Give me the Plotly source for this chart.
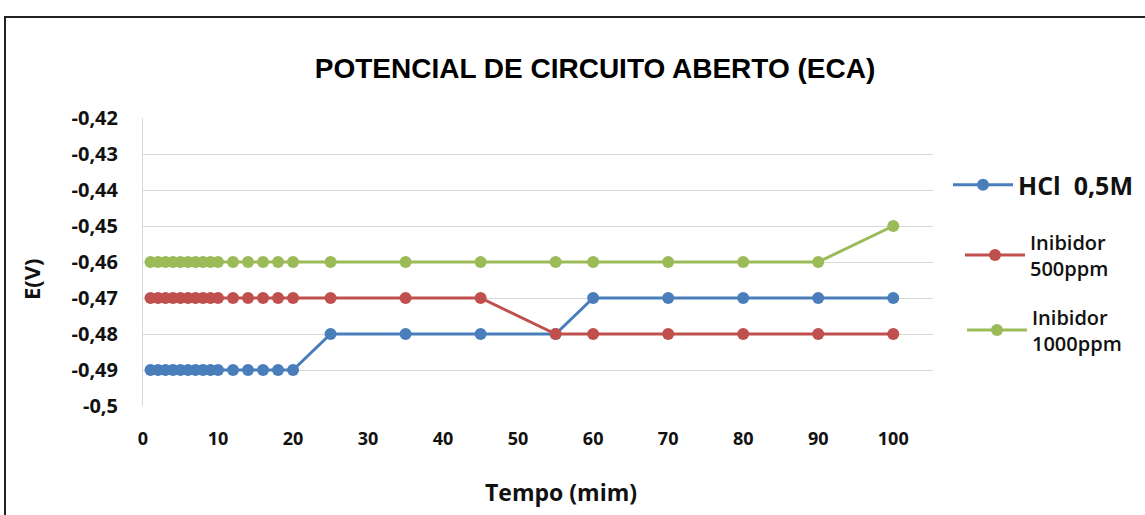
import plotly.graph_objects as go

tempo = [1, 2, 3, 4, 5, 6, 7, 8, 9, 10, 12, 14, 16, 18, 20, 25, 35, 45, 55, 60, 70, 80, 90, 100]
hcl = [-0.49]*15 + [-0.48, -0.48, -0.48, -0.48, -0.47, -0.47, -0.47, -0.47, -0.47]
inib500 = [-0.47]*15 + [-0.47, -0.47, -0.47, -0.48, -0.48, -0.48, -0.48, -0.48, -0.48]
inib1000 = [-0.46]*15 + [-0.46, -0.46, -0.46, -0.46, -0.46, -0.46, -0.46, -0.46, -0.45]

y_ticks = [-0.42, -0.43, -0.44, -0.45, -0.46, -0.47, -0.48, -0.49, -0.5]
y_labels = ["-0,42", "-0,43", "-0,44", "-0,45", "-0,46", "-0,47", "-0,48", "-0,49", "-0,5"]
x_ticks = [0, 10, 20, 30, 40, 50, 60, 70, 80, 90, 100]

series_names = ["HCl  0,5M", "Inibidor<br>500ppm", "Inibidor<br>1000ppm"]
series_values = [hcl, inib500, inib1000]
series_colors = ["#4A7EBB", "#C0504D", "#9BBB59"]
legend_ids = ["legend", "legend2", "legend3"]

fig = go.Figure()
for name, ys, col, lg in zip(series_names, series_values, series_colors, legend_ids):
    fig.add_trace(go.Scatter(
        x=tempo, y=ys, name=name, mode="lines+markers",
        line=dict(color=col, width=3),
        marker=dict(color=col, size=12),
        legend=lg,
    ))

font_main = "Liberation Sans, Arial, sans-serif"
font_tick = "Open Sans, Calibri, sans-serif"

L, T, W, H = 143, 118, 790, 288


def px_x(x):
    return (x - L) / W


def px_y(y):
    return 1 - (y - T) / H


fig.update_layout(
    width=1145, height=515,
    margin=dict(l=143, r=212, t=118, b=109, autoexpand=False),
    paper_bgcolor="white", plot_bgcolor="white",
    title=dict(text="<b>POTENCIAL DE CIRCUITO ABERTO (ECA)</b>",
               font=dict(family=font_main, size=28, color="black"),
               x=595/1145, xanchor="center", xref="container",
               y=1 - 68/515, yanchor="middle", yref="container"),
    showlegend=True,
    legend=dict(x=px_x(948), y=px_y(185), xanchor="left", yanchor="middle",
                font=dict(family=font_tick, size=25, color="#111", weight="bold"),
                itemwidth=60, bgcolor="rgba(0,0,0,0)"),
    legend2=dict(x=px_x(960), y=px_y(255), xanchor="left", yanchor="middle",
                 font=dict(family=font_tick, size=20, color="#111", weight=600),
                 itemwidth=60, bgcolor="rgba(0,0,0,0)"),
    legend3=dict(x=px_x(962), y=px_y(330), xanchor="left", yanchor="middle",
                 font=dict(family=font_tick, size=20, color="#111", weight=600),
                 itemwidth=60, bgcolor="rgba(0,0,0,0)"),
    xaxis=dict(range=[0, 105.3], tickvals=x_ticks, showgrid=False,
               zeroline=False, showline=False, ticks="",
               ticklabelstandoff=20,
               tickfont=dict(family=font_tick, size=18, color="#111", weight="bold")),
    yaxis=dict(range=[-0.5, -0.42], tickvals=y_ticks, ticktext=y_labels,
               showgrid=True, gridcolor="#D9D9D9", gridwidth=1,
               zeroline=False, showline=True, linecolor="#D9D9D9", linewidth=1, ticks="",
               ticklabelstandoff=20,
               tickfont=dict(family=font_tick, size=20, color="#111", weight="bold")),
)

fig.add_annotation(text="<b>Tempo (mim)</b>", xref="paper", yref="paper",
                   x=px_x(561), y=px_y(492), xanchor="center", yanchor="middle",
                   showarrow=False, font=dict(family=font_tick, size=23, color="#111"))
fig.add_annotation(text="<b>E(V)</b>", xref="paper", yref="paper",
                   x=px_x(31), y=px_y(279), xanchor="center", yanchor="middle",
                   textangle=-90, showarrow=False,
                   font=dict(family=font_tick, size=22, color="#111"))

fig.add_shape(type="rect", xref="paper", yref="paper",
              x0=-138/790, y0=-200/288, x1=1.5, y1=1 + 101/288,
              line=dict(color="#222", width=2), fillcolor="rgba(0,0,0,0)", layer="below")

fig.write_html("out.html", config={"displayModeBar": False},
               post_script="document.body.style.margin='0';")
